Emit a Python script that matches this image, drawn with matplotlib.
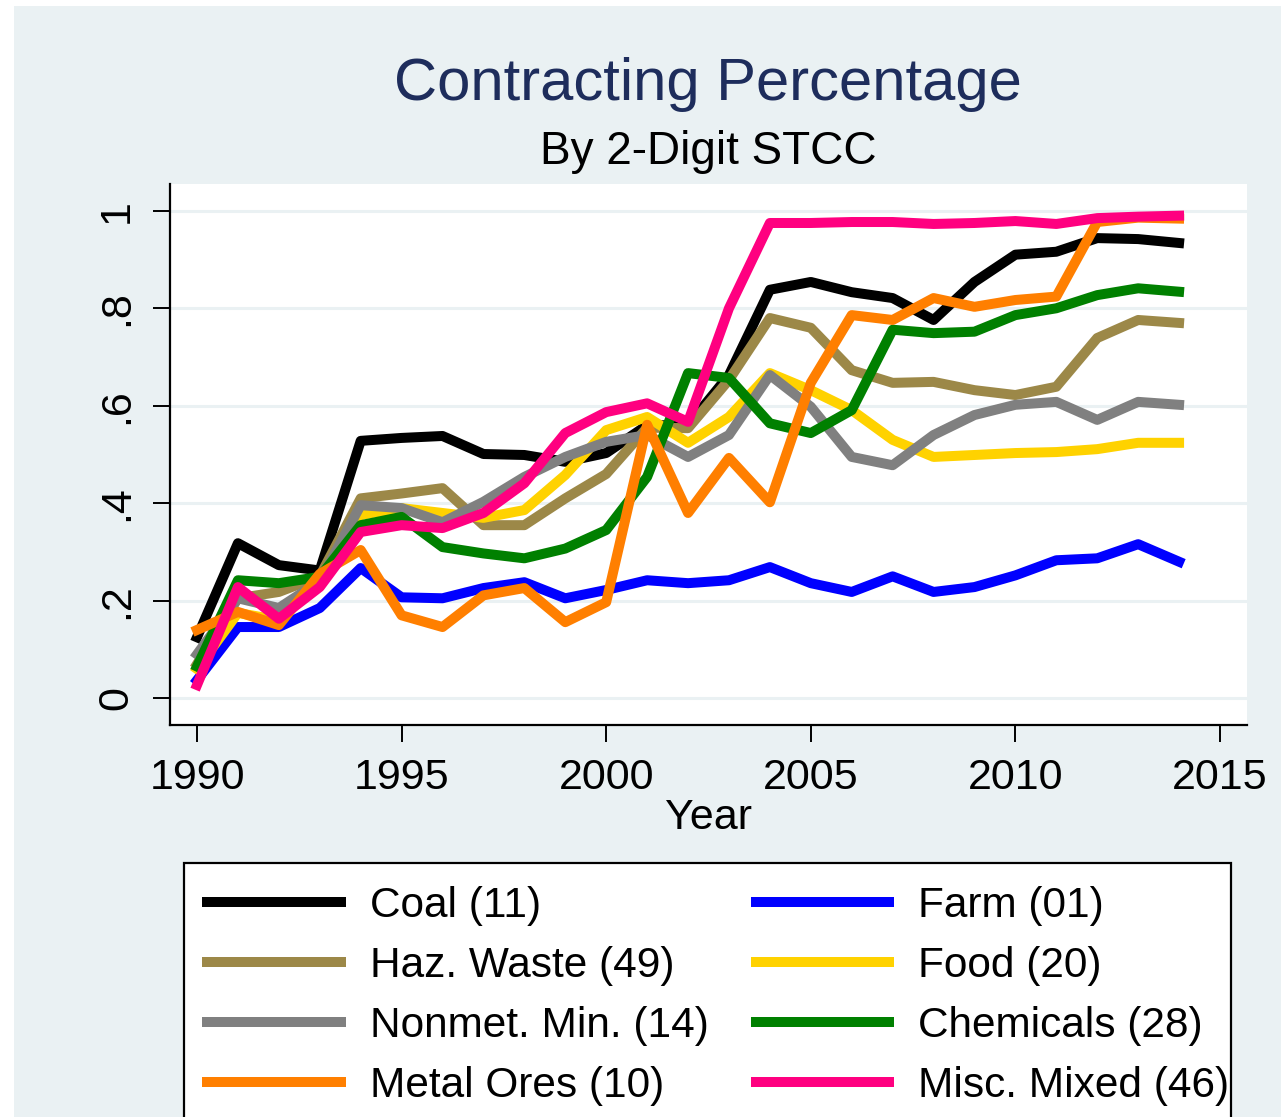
import matplotlib.pyplot as plt
from matplotlib.patches import Rectangle

plt.rcParams['font.family'] = ['Liberation Sans', 'DejaVu Sans']

years = list(range(1990, 2015))

coal = [0.125, 0.318, 0.273, 0.262, 0.528, 0.534, 0.538, 0.501, 0.499, 0.485, 0.503, 0.56, 0.56,
        0.663, 0.838, 0.854, 0.833, 0.821, 0.776, 0.854, 0.910, 0.916, 0.944, 0.942, 0.934]
farm = [0.037, 0.146, 0.146, 0.185, 0.267, 0.207, 0.205, 0.226, 0.238, 0.205, 0.222, 0.242, 0.236,
        0.242, 0.269, 0.236, 0.218, 0.250, 0.218, 0.228, 0.252, 0.283, 0.287, 0.316, 0.280]
haz = [0.07, 0.205, 0.218, 0.25, 0.41, 0.42, 0.431, 0.355, 0.355, 0.41, 0.46, 0.555, 0.554,
       0.653, 0.780, 0.760, 0.673, 0.647, 0.649, 0.632, 0.622, 0.639, 0.739, 0.776, 0.770]
food = [0.06, 0.175, 0.16, 0.24, 0.376, 0.39, 0.38, 0.37, 0.386, 0.458, 0.55, 0.577, 0.524,
        0.577, 0.667, 0.632, 0.591, 0.530, 0.495, 0.499, 0.503, 0.505, 0.511, 0.524, 0.524]
nonmet = [0.09, 0.205, 0.185, 0.24, 0.396, 0.39, 0.361, 0.403, 0.454, 0.495, 0.526, 0.54, 0.495,
          0.54, 0.663, 0.598, 0.495, 0.478, 0.54, 0.581, 0.602, 0.608, 0.571, 0.608, 0.602]
chem = [0.065, 0.242, 0.236, 0.249, 0.355, 0.372, 0.31, 0.297, 0.287, 0.307, 0.345, 0.454, 0.667,
        0.657, 0.564, 0.544, 0.591, 0.756, 0.749, 0.752, 0.786, 0.800, 0.827, 0.841, 0.834]
metal = [0.14, 0.177, 0.15, 0.255, 0.304, 0.17, 0.146, 0.211, 0.226, 0.156, 0.197, 0.561, 0.38,
         0.493, 0.402, 0.647, 0.786, 0.776, 0.821, 0.803, 0.817, 0.824, 0.977, 0.986, 0.984]
misc = [0.027, 0.228, 0.163, 0.228, 0.341, 0.355, 0.349, 0.38, 0.441, 0.544, 0.587, 0.605, 0.567,
        0.80, 0.975, 0.975, 0.977, 0.977, 0.973, 0.975, 0.979, 0.973, 0.985, 0.988, 0.99]

labels = ["Coal (11)", "Farm (01)", "Haz. Waste (49)", "Food (20)",
          "Nonmet. Min. (14)", "Chemicals (28)", "Metal Ores (10)", "Misc. Mixed (46)"]
colors = ["#000000", "#0000FF", "#9C8848", "#FFD200", "#808080", "#008000", "#FF7F00", "#FF0080"]
series = [coal, farm, haz, food, nonmet, chem, metal, misc]

bg = "#EAF1F3"
W, H = 1281, 1117
fig = plt.figure(figsize=(W / 100, H / 100), dpi=100, facecolor="white")
fig.patches.append(Rectangle((14 / W, 0), 1 - 14 / W, 1 - 6 / H, transform=fig.transFigure,
                             facecolor=bg, edgecolor="none", zorder=-10))

ax = fig.add_axes([170 / W, (H - 725) / H, (1247 - 170) / W, (725 - 184) / H])
ax.set_facecolor("white")

lines = []
for y, c, lab in zip(series, colors, labels):
    ln, = ax.plot(years, y, color=c, lw=7.2, label=lab)
    lines.append(ln)

ax.set_xlim(1989.34, 2015.66)
ax.set_ylim(-0.055, 1.055)
ax.set_xticks([1990, 1995, 2000, 2005, 2010, 2015])
ax.set_yticks([0, 0.2, 0.4, 0.6, 0.8, 1.0])
ax.set_yticklabels(["0", ".2", ".4", ".6", ".8", "1"], rotation=90, va="center")
ax.grid(axis="y", color=bg, lw=2.2)
ax.set_axisbelow(True)
for s in ["top", "right"]:
    ax.spines[s].set_visible(False)
for s in ["left", "bottom"]:
    ax.spines[s].set_linewidth(1.6)
ax.tick_params(labelsize=31, length=12, width=1.4, pad=12)
ax.set_xlabel("Year", fontsize=31, labelpad=0)

fig.text(708 / W, 1 - 84 / H, "Contracting Percentage", ha="center", va="center",
         fontsize=43, color="#1E2D5C")
fig.text(708 / W, 1 - 152 / H, "By 2-Digit STCC", ha="center", va="center", fontsize=33)

# legend box, cut off at the bottom of the image like the original
fig.patches.append(Rectangle((184 / W, -0.05), (1231 - 184) / W, 1 - 863 / H + 0.05,
                             transform=fig.transFigure, facecolor="white",
                             edgecolor="black", lw=1.6, zorder=1))

# legend fills row by row: reorder for matplotlib's column-major layout
order = [0, 2, 4, 6, 1, 3, 5, 7]
leg = fig.legend([lines[i] for i in order], [labels[i] for i in order],
                 loc="upper left", bbox_to_anchor=(184 / W, 1 - 863 / H), ncol=2,
                 fontsize=30.5, frameon=False,
                 handlelength=3.15, handletextpad=0.68, columnspacing=1.12,
                 labelspacing=0.47, borderpad=0.55, borderaxespad=0)
leg.set_zorder(2)

fig.savefig("out.png", dpi=100, facecolor=fig.get_facecolor())
